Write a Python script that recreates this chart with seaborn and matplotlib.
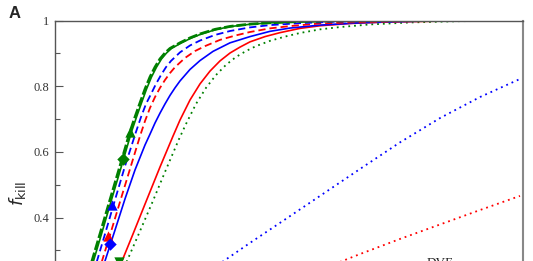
import matplotlib
matplotlib.use("Agg")
import matplotlib.pyplot as plt
import seaborn as sns
import pandas as pd

# ---- data ----
green_dash_x = [3.5, 3.7, 4.5, 5.5, 6.5, 7.5, 8.0, 8.5, 9.0, 9.5, 10.0, 10.5, 11.0, 11.5,
                12.5, 13.5, 14.5, 16.0, 17.5, 19.5, 21.5, 24.5, 28.5, 34.5, 46.8]
green_dash_y = [0.247, 0.268, 0.350, 0.454, 0.557, 0.661, 0.706, 0.749, 0.791, 0.828, 0.858,
                0.883, 0.901, 0.915, 0.932, 0.947, 0.959, 0.973, 0.982, 0.989, 0.993, 0.997,
                0.999, 1.000, 1.000]

green_solid_x = [3.65, 3.85, 4.65, 5.65, 6.65, 7.65, 8.15, 8.65, 9.15, 9.65, 10.15, 10.65,
                 11.15, 11.65, 12.65, 13.65, 14.65, 16.15, 17.65, 19.65, 21.65, 24.65, 28.65,
                 34.65, 46.8]
green_solid_y = [0.247, 0.268, 0.350, 0.454, 0.557, 0.661, 0.706, 0.749, 0.791, 0.828, 0.858,
                 0.883, 0.901, 0.915, 0.932, 0.947, 0.959, 0.973, 0.982, 0.989, 0.993, 0.997,
                 0.999, 1.000, 1.000]

blue_dash_x = [4.0, 4.2, 5.0, 6.0, 7.0, 8.1, 8.6, 9.1, 9.6, 10.1, 10.6, 11.1, 11.6, 12.5,
               13.5, 14.5, 16.0, 17.5, 19.5, 21.5, 24.5, 28.5, 34.5, 46.8]
blue_dash_y = [0.247, 0.268, 0.350, 0.454, 0.557, 0.661, 0.706, 0.746, 0.776, 0.807, 0.834,
               0.858, 0.877, 0.903, 0.924, 0.939, 0.956, 0.968, 0.979, 0.986, 0.992, 0.997,
               0.999, 1.000]

red_dash_x = [4.5, 4.7, 5.5, 6.5, 7.5, 8.5, 9.0, 9.5, 10.0, 10.5, 11.0, 11.5, 12.0, 13.0,
              14.0, 15.0, 16.5, 18.0, 19.5, 21.5, 23.5, 26.5, 30.5, 36.5, 46.8]
red_dash_y = [0.247, 0.268, 0.347, 0.448, 0.548, 0.648, 0.694, 0.734, 0.767, 0.795, 0.819,
              0.840, 0.858, 0.886, 0.907, 0.922, 0.941, 0.954, 0.965, 0.976, 0.983, 0.991,
              0.995, 0.998, 1.000]

blue_solid_x = [4.8, 5.0, 6.0, 7.0, 8.0, 9.0, 9.5, 10.0, 10.5, 11.0, 11.5, 12.0, 12.5, 13.5,
                14.5, 15.8, 17.5, 19.5, 21.5, 23.5, 26.5, 30.5, 36.5, 46.8]
blue_solid_y = [0.247, 0.268, 0.362, 0.457, 0.545, 0.621, 0.654, 0.688, 0.718, 0.746, 0.772,
                0.795, 0.816, 0.851, 0.878, 0.906, 0.932, 0.951, 0.967, 0.977, 0.986, 0.993,
                0.998, 1.000]

red_solid_x = [6.4, 6.7, 7.8, 9.0, 10.5, 11.8, 12.5, 13.5, 14.5, 15.5, 16.5, 17.5, 18.5, 19.5,
               21.0, 22.5, 24.5, 26.5, 29.5, 33.5, 38.5, 46.8]
red_solid_y = [0.247, 0.268, 0.350, 0.441, 0.554, 0.648, 0.697, 0.758, 0.807, 0.846, 0.877,
               0.901, 0.919, 0.935, 0.951, 0.963, 0.976, 0.984, 0.991, 0.996, 0.998, 1.000]

green_dot_x = [6.9, 7.2, 8.5, 9.7, 11.0, 12.4, 13.1, 14.1, 15.1, 16.1, 17.1, 18.1, 19.1, 20.1,
               21.5, 23.0, 24.5, 26.5, 28.5, 31.5, 35.5, 40.5, 46.8]
green_dot_y = [0.247, 0.268, 0.359, 0.444, 0.539, 0.639, 0.685, 0.746, 0.795, 0.834, 0.865,
               0.889, 0.907, 0.922, 0.938, 0.951, 0.962, 0.973, 0.980, 0.988, 0.994, 0.998,
               0.999]

blue_dot_x = [16.3, 19.5, 22.5, 26.5, 30.5, 34.5, 38.5, 42.5, 46.5]
blue_dot_y = [0.256, 0.323, 0.384, 0.466, 0.548, 0.629, 0.703, 0.767, 0.822]

red_dot_x = [28.0, 30.5, 34.5, 38.5, 42.5, 46.5]
red_dot_y = [0.259, 0.289, 0.335, 0.379, 0.423, 0.466]

# markers
marker_x = [7.45, 6.8, 5.7, 5.3, 5.5, 6.35]
marker_y = [0.661, 0.578, 0.438, 0.344, 0.320, 0.265]
marker_shape = ["^", "D", "^", "^", "D", "v"]
marker_color = ["#008000", "#008000", "#0000ff", "#ff0000", "#0000ff", "#008000"]

ytick_vals = [0.4, 0.6, 0.8, 1.0]
ytick_labels = ["0.4", "0.6", "0.8", "1"]
yminor_vals = [0.3, 0.5, 0.7, 0.9]

# ---- figure ----
sns.set_style("white")
W, H = 533, 261
fig = plt.figure(figsize=(W / 100, H / 100), dpi=100)
ax_left, ax_right, ax_top = 55, 523, 20.5
px_per_unit = 328.5
ax_h = px_per_unit / H
ax_bottom = 1 - ax_top / H - ax_h
ax = fig.add_axes([ax_left / W, ax_bottom, (ax_right - ax_left) / W, ax_h])

dot = (0, (1, 2.2))
curves = [
    (red_dot_x, red_dot_y, "#ff0000", 1.3, dot),
    (blue_dot_x, blue_dot_y, "#0000ff", 1.3, dot),
    (green_dot_x, green_dot_y, "#008000", 1.3, dot),
    (red_solid_x, red_solid_y, "#ff0000", 1.2, "-"),
    (blue_solid_x, blue_solid_y, "#0000ff", 1.2, "-"),
    (red_dash_x, red_dash_y, "#ff0000", 1.3, (0, (4, 2.2))),
    (blue_dash_x, blue_dash_y, "#0000ff", 1.3, (0, (4, 2.2))),
    (green_solid_x, green_solid_y, "#008000", 1.2, "-"),
    (green_dash_x, green_dash_y, "#008000", 2.0, (0, (3.5, 1.0))),
]
for xs, ys, c, lw, ls in curves:
    df = pd.DataFrame({"x": xs, "y": ys})
    sns.lineplot(data=df, x="x", y="y", ax=ax, color=c, lw=lw, linestyle=ls,
                 sort=False, estimator=None)

for mx, my, ms, mc in zip(marker_x, marker_y, marker_shape, marker_color):
    sns.scatterplot(x=[mx], y=[my], ax=ax, marker=ms, color=mc,
                    s=40 if ms == "D" else 55, linewidth=0, zorder=5)

ax.set_xlim(0, 46.8)
ax.set_ylim(0, 1)
ax.set_xlabel("")
ax.set_ylabel("")
ax.set_xticks([])
ax.set_yticks(ytick_vals)
ax.set_yticklabels(ytick_labels, family="Liberation Serif", fontsize=9, color="#333333")
ax.set_yticks(yminor_vals, minor=True)
ax.tick_params(axis="y", which="major", direction="in", length=6, width=0.8,
               color="#555555", pad=4, left=True)
ax.tick_params(axis="y", which="minor", direction="in", length=3.5, width=0.8,
               color="#555555", left=True)
for side in ["left", "top", "right", "bottom"]:
    ax.spines[side].set_visible(True)
    ax.spines[side].set_color("#555555")
    ax.spines[side].set_linewidth(1.0)
ax.spines["right"].set_color("#888888")
ax.spines["right"].set_linewidth(1.5)

fig.text(17 / W, 1 - 193 / H, r"$f_{\mathrm{kill}}$", rotation=90,
         ha="center", va="center", fontsize=13, family="Liberation Sans")
fig.text(9 / W, 1 - 14 / H, "A", fontsize=12, fontweight="bold",
         family="Liberation Sans", ha="left", va="center")
fig.text(440 / W, 1 - 257.5 / H, "DVE", fontsize=9.5, family="Liberation Serif",
         ha="center", va="top", color="#222222")

fig.savefig("out.png", dpi=100)
